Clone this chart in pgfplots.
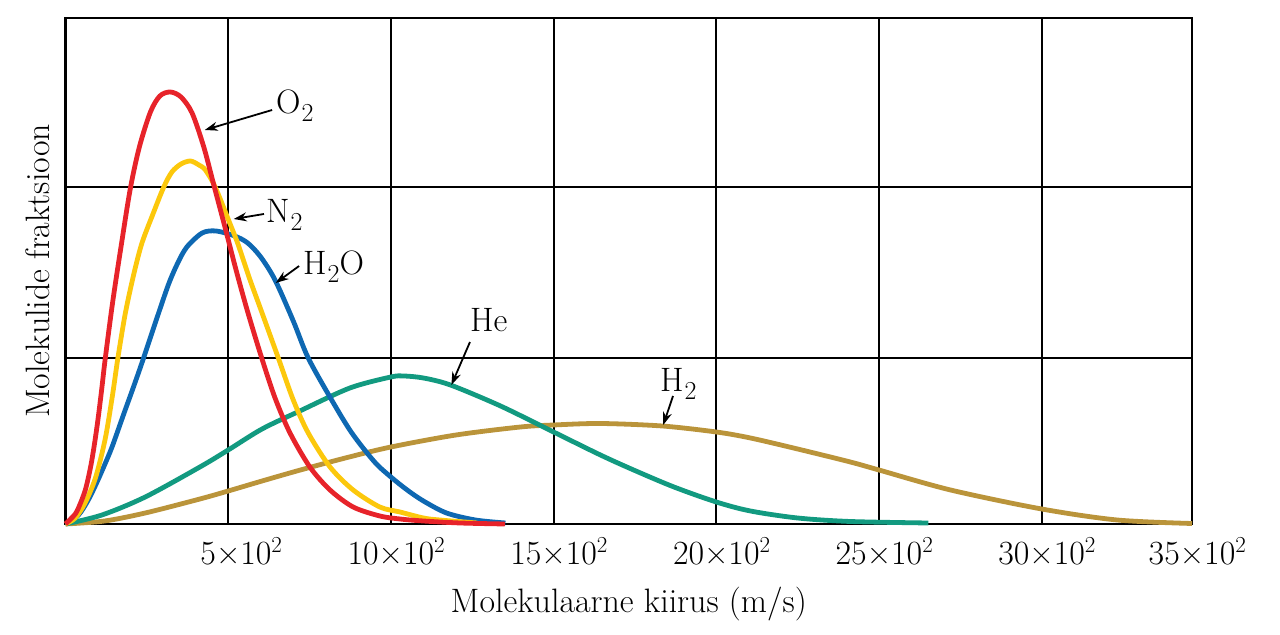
\documentclass[border=0pt]{standalone}
\usepackage{fix-cm}
\usepackage{pgfplots}
\pgfplotsset{compat=1.18}
\usetikzlibrary{arrows.meta}

\definecolor{cO}{RGB}{231,35,42}
\definecolor{cN}{RGB}{252,200,12}
\definecolor{cW}{RGB}{14,104,178}
\definecolor{cHe}{RGB}{18,154,128}
\definecolor{cH}{RGB}{186,148,58}

\newcommand\fsz{\fontsize{34}{40}\selectfont}
% x tick label with the times sign on the grid line
\newcommand\tl[1]{\makebox[0pt][r]{#1}×\makebox[0pt][l]{10\raisebox{12bp}{\fontsize{23}{23}\selectfont 2}}}
\newcommand\sub[1]{\kern1bp\raisebox{-8bp}{\fontsize{26}{26}\selectfont #1}}

\begin{document}
\begin{tikzpicture}
\begin{axis}[
  scale only axis, width=1126.5bp, height=506bp,
  xmin=0, xmax=3462, ymin=0, ymax=506,
  clip=false,
  axis line style={black, line width=2.2bp},
  grid=major, major grid style={black, line width=1.9bp},
  major tick length=0pt,
  xtick={500,1000,1500,2000,2500,3000,3462},
  xticklabels={\tl{5},\tl{10},\tl{15},\tl{20},\tl{25},\tl{30},\tl{35}},
  ytick={166,337}, yticklabels={},
  xticklabel style={anchor=base, yshift=-41bp, inner sep=0pt, font=\fsz},
  xlabel={Molekulaarne kiirus (m/s)},
  xlabel style={at={(axis description cs:0.5,-0.174)}, anchor=base, inner sep=0pt, font=\fsz},
  ylabel={Molekulide fraktsioon},
  ylabel style={at={(axis description cs:-0.0142,0.5)}, anchor=south, inner sep=0pt, font=\fsz},
  every axis plot/.append style={line width=4.8bp, smooth},
]
% H2
\addplot[cH] coordinates {
(0,0) (120,3) (245,11) (413,25) (500,33) (604,43) (722,54) (860,66)
(1000,77) (1200,89) (1398,97) (1500,99) (1644,100.5) (1834,98)
(2000,92) (2105,86) (2250,75) (2412,62) (2500,54) (2720,34)
(3000,15) (3232,4) (3462,0.5)
};
% He
\addplot[cHe] coordinates {
(0,0) (112,9) (245,27) (413,57) (500,74) (604,95) (720,113) (874,136)
(1000,147) (1040,148) (1100,146) (1183,139) (1337,118) (1500,92)
(1644,69) (1746,54) (1870,37) (2000,22) (2105,13) (2250,6)
(2412,2.5) (2652,1)
};
% H2O
\addplot[cW] coordinates {
(0,0) (40,9) (70,24) (97,42) (120,59) (143,77) (179,110) (210,138)
(240,166) (281,206) (317,240) (345,261) (373,277) (420,291) (463,293)
(520,288) (560,281) (600,267) (644,244) (700,203) (746,166) (818,124)
(880,91) (950,62) (1000,47) (1050,34) (1100,23) (1171,11) (1260,4)
(1352,1)
};
% N2
\addplot[cN] coordinates {
(0,0) (30,6) (60,21) (92,46) (122,85) (145,130) (161,166) (184,211)
(210,250) (235,281) (270,311) (302,337) (327,352) (355,360) (384,363)
(410,359) (430,354) (460,337) (501,304) (530,280) (565,246) (603,212)
(654,166) (700,124) (746,91) (813,57) (884,34) (966,17) (1028,12)
(1100,6) (1150,4) (1265,1)
};
% O2
\addplot[cO] coordinates {
(0,0) (30,10) (45,20) (60,33) (70,46) (80,62) (90,82) (100,105)
(111,134) (122,165) (145,222) (171,278) (199,335) (227,377) (261,412)
(290,428) (322,432) (355,427) (389,411) (425,377) (455,340) (490,297)
(525,253) (560,212) (603,166) (644,126) (690,91) (751,57) (813,34)
(884,17) (966,8) (1028,5) (1100,3) (1214,1) (1350,0)
};

\tikzset{lab/.style={anchor=base west, inner sep=0pt, font=\fsz},
         arr/.style={-{Stealth[length=13bp,width=9bp]}, line width=1.8bp}}
\draw[arr] (axis cs:635,414) -- (axis cs:428,394);
\node[lab] at (axis cs:647,410) {O\sub{2}};
\draw[arr] (axis cs:610,310) -- (axis cs:517,305);
\node[lab] at (axis cs:616,301) {N\sub{2}};
\draw[arr] (axis cs:718,258) -- (axis cs:646,241);
\node[lab] at (axis cs:730,249) {H\sub{2}O};
\draw[arr] (axis cs:1243,182) -- (axis cs:1186,139);
\node[lab] at (axis cs:1243,192) {He};
\draw[arr] (axis cs:1867,128) -- (axis cs:1837,99);
\node[lab] at (axis cs:1827,132) {H\sub{2}};

\path ([shift={(-65.5bp,-111bp)}]rel axis cs:0,0) rectangle ([shift={(88bp,18bp)}]rel axis cs:1,1);
\end{axis}
\end{tikzpicture}
\end{document}
